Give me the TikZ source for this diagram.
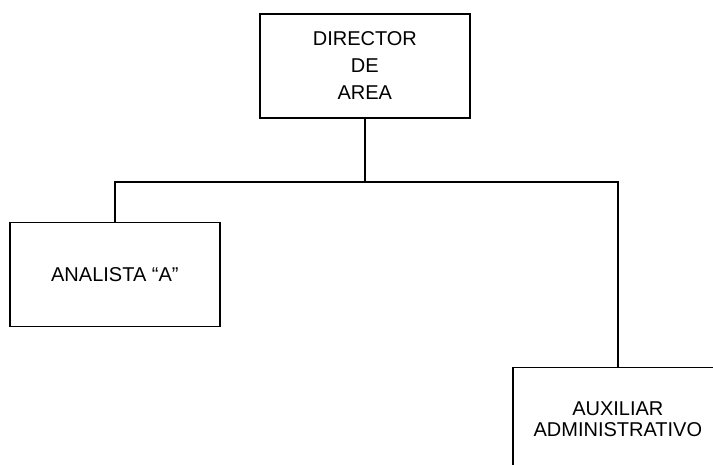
\documentclass[tikz,border=0pt]{standalone}
\usepackage{fontspec}
\setmainfont{Liberation Sans}
\begin{document}
\begin{tikzpicture}[x=1pt,y=-1pt]
\useasboundingbox [fill=white] (0,0) rectangle (713,465);
\begin{scope}

\tikzstyle{puestonode} = [minimum width=210pt,minimum height=104pt,draw,line width=1.7pt,align=center,inner sep=0pt];

\node [puestonode,anchor=north west,font=\fontsize{20}{27}\selectfont] (dir) at (259,13) {DIRECTOR\\DE\\AREA};
\node [puestonode,anchor=north west,font=\fontsize{20}{23}\selectfont] (ana) at ([xshift=-250pt,yshift=-103pt]dir.south west) {ANALISTA ``A''};
\node [puestonode,anchor=north west,font=\fontsize{20}{21}\selectfont] (aux) at ([xshift=253pt,yshift=-248pt]dir.south west) {AUXILIAR\\ADMINISTRATIVO};

\coordinate (bus) at ([yshift=-63pt]dir.south);

\draw [line width=1.7pt] (dir.south) -- (bus);
\draw [line width=1.7pt] (ana.north) |- (bus) -| (aux.north);

\end{scope}
\end{tikzpicture}
\end{document}
